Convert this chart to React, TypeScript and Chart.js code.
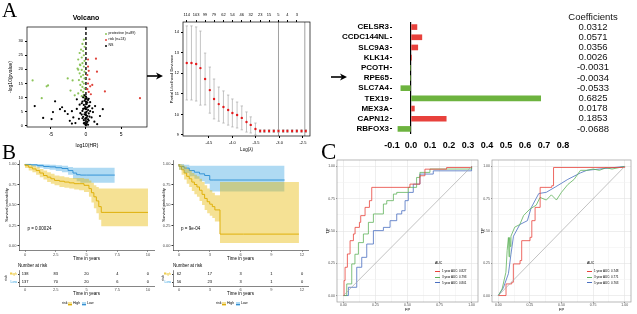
import React, { useEffect, useRef } from "react";
import { Chart, registerables } from "chart.js";

Chart.register(...registerables);

const SANS = "'Liberation Sans', Arial, sans-serif";
const SERIF = "'Liberation Serif', 'Times New Roman', serif";
Chart.defaults.font.family = SANS;

// ---------------- DATA ----------------
// Panel A - volcano (log10(HR), -log10(p))
const volcanoNS: number[][] = [
  [0, 0.2], [-0.1, 0.5], [0.1, 0.8], [-0.2, 1.1], [0.2, 1.4], [0, 1.7], [-0.3, 2.0], [0.3, 2.3], [-0.1, 2.6], [0.1, 2.9],
  [-0.4, 3.2], [0.2, 3.5], [0, 3.8], [-0.2, 4.1], [0.4, 4.4], [-0.1, 4.7], [0.1, 5.0], [-0.5, 5.3], [0.3, 5.6], [0, 5.9],
  [-0.2, 6.2], [0.2, 6.5], [-0.1, 6.8], [0.5, 7.1], [-0.3, 7.4], [0.1, 7.7], [-0.6, 8.0], [0.2, 8.3], [0, 8.6], [-0.2, 8.9],
  [0.3, 9.2], [-0.1, 9.5], [0.1, 9.8], [-0.4, 10.1], [0, 10.4], [-0.2, 10.8], [0.3, 0.4], [-0.3, 0.9], [0.4, 1.9], [-0.5, 2.7],
  [0.5, 3.3], [-0.6, 4.0], [0.6, 5.2], [-0.4, 6.0], [0.4, 6.9], [-0.5, 8.6], [0.4, 9.6], [-1.5, 1.0], [-1.0, 2.5], [-2.0, 0.8],
  [1.2, 1.5], [0.8, 3.0], [-0.8, 4.5], [-1.3, 6.0], [1.0, 4.9], [0.6, 8.4], [-1.3, 9.4], [1.3, 7.0], [2.0, 3.5], [2.4, 5.9],
  [-2.6, 4.2], [-3.0, 5.2], [-3.4, 6.6], [-2.0, 5.2], [-4.7, 4.9], [-4.4, 8.7], [-4.9, 2.4], [-6.1, 2.8], [-7.3, 7.0], [-3.7, 5.9],
  [-1.8, 3.0], [-2.3, 1.8], [1.6, 0.6], [-0.9, 7.5], [0.9, 6.2],
];
const volcanoProtective: number[][] = [
  [-0.3, 30.5], [-0.5, 29], [-0.2, 28], [-0.7, 27], [-0.4, 26.5], [-0.9, 25.8], [-0.3, 25], [-0.6, 24.2], [-1.1, 23.5], [-0.2, 23],
  [-0.5, 22.2], [-0.8, 21.5], [-0.3, 21], [-1.2, 20.3], [-0.6, 19.8], [-0.2, 19.2], [-0.9, 18.6], [-0.4, 18], [-0.7, 17.4], [-0.2, 16.8],
  [-1.0, 16.2], [-0.5, 15.6], [-0.3, 15], [-0.8, 14.5], [-0.5, 13.8], [-0.2, 13.2], [-0.7, 12.6], [-0.4, 12], [-1.1, 11.5], [-0.3, 11],
  [-0.6, 10.5], [-0.2, 10.1], [-7.6, 16.1], [-5.4, 14.3], [-5.6, 14], [-2.6, 16.8], [-1.9, 16.1], [-6.3, 9.8], [-1.1, 19.9], [-0.86, 21.7],
  [-1.6, 10.8], [-2.2, 12.5],
];
const volcanoRisk: number[][] = [
  [0.3, 21], [0.4, 19.5], [0.2, 18], [0.5, 16.5], [0.3, 15], [0.6, 14], [0.2, 13], [0.4, 12], [0.7, 11.2], [1.43, 23.8],
  [1.57, 19.2], [2.7, 12.2], [7.7, 9.8], [0.9, 14.5], [0.3, 23.5],
];
const volcanoXTicks = [-5, 0, 5];
const volcanoYTicks = [0, 5, 10, 15, 20, 25, 30];

// Panel A - LASSO cross-validation
const cvLogLambda = [-4.97, -4.87, -4.77, -4.68, -4.58, -4.48, -4.39, -4.29, -4.19, -4.09, -4.0, -3.9, -3.8, -3.7, -3.61, -3.51,
  -3.41, -3.32, -3.22, -3.12, -3.02, -2.92, -2.83, -2.73, -2.63, -2.53, -2.44];
const cvDeviance = [12.5, 12.5, 12.45, 12.25, 11.72, 11.18, 10.75, 10.5, 10.36, 10.21, 10.07, 9.97, 9.83, 9.63, 9.49, 9.29,
  9.19, 9.19, 9.19, 9.19, 9.19, 9.19, 9.19, 9.19, 9.19, 9.19, 9.19];
const cvError = [1.8, 1.8, 1.8, 1.8, 1.26, 1.12, 0.97, 0.83, 0.78, 0.73, 0.68, 0.63, 0.58, 0.49, 0.39, 0.29,
  0.07, 0.07, 0.07, 0.07, 0.07, 0.07, 0.07, 0.07, 0.07, 0.07, 0.07];
const cvTopCounts = [114, 103, 99, 79, 62, 54, 46, 32, 23, 15, 5, 4, 3];
const cvXTicks = [-4.5, -4.0, -3.5, -3.0, -2.5];
const cvYTicks = [9, 10, 11, 12, 13, 14];
const cvLambdaLines = [-3.02, -2.46];

// Panel A - coefficients
const geneNames = ["CELSR3", "CCDC144NL", "SLC9A3", "KLK14", "PCOTH", "RPE65", "SLC7A4", "TEX19", "MEX3A", "CAPN12", "RBFOX3"];
const geneCoefs = [0.0312, 0.0571, 0.0356, 0.0026, -0.0031, -0.0034, -0.0533, 0.6825, 0.0178, 0.1853, -0.0688];
const geneBarColors = ["#e8413c", "#e8413c", "#e8413c", "#e8413c", "#6db33f", "#6db33f", "#6db33f", "#6db33f", "#e8413c", "#e8413c", "#6db33f"];
const coefXTicks = [-0.1, 0, 0.1, 0.2, 0.3, 0.4, 0.5, 0.6, 0.7, 0.8];

// Panel B - Kaplan-Meier (left: training, right: validation)
const kmLeftHighTime = [0, 0.3, 0.6, 0.9, 1.2, 1.5, 1.8, 2.1, 2.4, 2.8, 3.2, 3.6, 4.0, 4.4, 4.8, 5.2, 5.4, 5.6, 5.8, 6.0, 6.2, 6.5, 10];
const kmLeftHighSurv = [1, 0.98, 0.96, 0.94, 0.92, 0.89, 0.86, 0.84, 0.82, 0.8, 0.79, 0.78, 0.77, 0.76, 0.76, 0.74, 0.7, 0.65, 0.6, 0.55, 0.48, 0.41, 0.41];
const kmLeftHighUpper = [1, 1, 0.99, 0.98, 0.96, 0.94, 0.92, 0.9, 0.88, 0.86, 0.85, 0.84, 0.83, 0.83, 0.83, 0.82, 0.8, 0.77, 0.74, 0.72, 0.7, 0.7, 0.7];
const kmLeftHighLower = [1, 0.95, 0.92, 0.9, 0.87, 0.84, 0.81, 0.78, 0.76, 0.74, 0.72, 0.71, 0.7, 0.69, 0.68, 0.66, 0.6, 0.53, 0.46, 0.4, 0.32, 0.24, 0.24];
const kmLeftLowTime = [0, 0.5, 1.0, 1.5, 2.0, 2.5, 3.0, 3.5, 3.9, 4.2, 4.5, 5.0, 7.3];
const kmLeftLowSurv = [1, 0.995, 0.99, 0.98, 0.97, 0.965, 0.955, 0.945, 0.92, 0.89, 0.87, 0.865, 0.865];
const kmLeftLowUpper = [1, 1, 1, 1, 0.995, 0.99, 0.985, 0.98, 0.965, 0.955, 0.955, 0.955, 0.955];
const kmLeftLowLower = [1, 0.985, 0.97, 0.955, 0.94, 0.93, 0.915, 0.9, 0.87, 0.82, 0.79, 0.77, 0.77];
const kmRightHighTime = [0, 0.25, 0.5, 0.75, 1.0, 1.25, 1.5, 1.75, 2.0, 2.25, 2.5, 2.75, 3.0, 3.25, 3.5, 4.0, 6.3, 11.7];
const kmRightHighSurv = [1, 0.97, 0.93, 0.89, 0.85, 0.82, 0.78, 0.75, 0.72, 0.68, 0.63, 0.58, 0.54, 0.51, 0.48, 0.44, 0.145, 0.145];
const kmRightHighUpper = [1, 1, 0.99, 0.97, 0.94, 0.92, 0.89, 0.87, 0.85, 0.82, 0.78, 0.74, 0.7, 0.68, 0.65, 0.62, 0.78, 0.78];
const kmRightHighLower = [1, 0.93, 0.87, 0.81, 0.76, 0.72, 0.67, 0.63, 0.6, 0.55, 0.5, 0.44, 0.4, 0.37, 0.34, 0.3, 0.035, 0.035];
const kmRightLowTime = [0, 0.5, 1.0, 1.5, 2.0, 2.5, 3.0, 3.4, 10.3];
const kmRightLowSurv = [1, 0.97, 0.95, 0.92, 0.9, 0.88, 0.86, 0.805, 0.805];
const kmRightLowUpper = [1, 1, 0.99, 0.98, 0.98, 0.98, 0.98, 0.98, 0.98];
const kmRightLowLower = [1, 0.93, 0.89, 0.85, 0.82, 0.79, 0.76, 0.665, 0.665];
const kmYTicks = [0, 0.25, 0.5, 0.75, 1];
const kmLeftXTicks = [0, 2.5, 5, 7.5, 10];
const kmRightXTicks = [0, 3, 6, 9, 12];
const kmLeftP = "p = 0.00024";
const kmRightP = "p = 9e-04";
const riskGroups = ["High", "Low"];
const riskLeftHigh = [138, 83, 20, 4, 0];
const riskLeftLow = [137, 70, 20, 6, 0];
const riskRightHigh = [62, 17, 3, 1, 0];
const riskRightLow = [56, 23, 3, 1, 0];

// Panel C - time-dependent ROC curves [FP, TP]
const rocLeft1y: number[][] = [[0, 0], [0.005, 0.116], [0.013, 0.219], [0.031, 0.322], [0.052, 0.425], [0.078, 0.477], [0.091, 0.528],
  [0.125, 0.567], [0.135, 0.619], [0.169, 0.683], [0.203, 0.735], [0.221, 0.838], [0.506, 0.838], [0.519, 0.863], [0.597, 0.928],
  [0.636, 0.979], [0.805, 0.992], [1, 1]];
const rocLeft3y: number[][] = [[0, 0], [0.026, 0.09], [0.065, 0.245], [0.09, 0.32], [0.117, 0.41], [0.156, 0.477], [0.195, 0.567],
  [0.234, 0.632], [0.312, 0.709], [0.338, 0.735], [0.39, 0.786], [0.416, 0.799], [0.506, 0.799], [0.506, 0.838], [0.571, 0.915],
  [0.597, 0.954], [0.675, 0.98], [1, 1]];
const rocLeft5y: number[][] = [[0, 0], [0.039, 0.064], [0.104, 0.219], [0.143, 0.296], [0.182, 0.399], [0.234, 0.503], [0.312, 0.528],
  [0.364, 0.58], [0.416, 0.632], [0.455, 0.657], [0.481, 0.735], [0.506, 0.799], [0.545, 0.863], [0.597, 0.941], [0.701, 0.966], [1, 1]];
const rocRight1y: number[][] = [[0, 0], [0.053, 0], [0.061, 0.09], [0.106, 0.103], [0.119, 0.245], [0.172, 0.271], [0.185, 0.425],
  [0.251, 0.451], [0.265, 0.58], [0.291, 0.683], [0.331, 0.838], [0.423, 0.851], [0.437, 0.992], [1, 1]];
const rocRight3y: number[][] = [[0, 0], [0.03, 0.05], [0.06, 0.18], [0.07, 0.35], [0.08, 0.45], [0.085, 0.3], [0.09, 0.45], [0.095, 0.38],
  [0.1, 0.46], [0.13, 0.53], [0.17, 0.55], [0.2, 0.62], [0.25, 0.67], [0.3, 0.7], [0.33, 0.76], [0.38, 0.74], [0.42, 0.78], [0.46, 0.74],
  [0.5, 0.8], [0.55, 0.86], [0.6, 0.9], [0.65, 0.97], [0.7, 0.97], [0.75, 0.98], [0.8, 0.97], [0.85, 0.99], [0.9, 0.98], [0.95, 0.99], [1, 1]];
const rocRight5y: number[][] = [[0, 0], [0.04, 0.06], [0.08, 0.17], [0.1, 0.32], [0.12, 0.46], [0.17, 0.55], [0.23, 0.58], [0.26, 0.68],
  [0.32, 0.79], [0.38, 0.8], [0.45, 0.84], [0.55, 0.9], [0.65, 0.95], [0.7, 0.97], [1, 1]];
const rocTicks = [0, 0.125, 0.25, 0.375, 0.5, 0.625, 0.75, 0.875, 1];
const aucLeftLabels = ["1 year AUC: 0.827", "3 year AUC: 0.793", "5 year AUC: 0.801"];
const aucRightLabels = ["1 year AUC: 0.748", "3 year AUC: 0.771", "5 year AUC: 0.763"];

// ---------------- STYLE ----------------
const ORANGE = "#E7B800";
const ORANGE_LINE = "#d9aa10";
const BLUE = "#2E9FDF";
const BLUE_LINE = "#3a8ed0";
const ORANGE_BAND = "rgba(231,184,0,0.42)";
const BLUE_BAND = "rgba(46,159,223,0.38)";
const ROC_COLORS = ["#e8423b", "#5fb35a", "#4a6fc0"];

// ---------------- PLUGINS ----------------
const framePlugin: any = {
  id: "frame",
  afterDatasetsDraw(chart: any, _a: any, o: any) {
    if (!o || !o.show) return;
    const { left, top, right, bottom } = chart.chartArea;
    const ctx = chart.ctx;
    ctx.save();
    ctx.strokeStyle = o.color || "#000";
    ctx.lineWidth = o.width || 1;
    ctx.strokeRect(left, top, right - left, bottom - top);
    ctx.restore();
  },
};
const refLinesPlugin: any = {
  id: "refLines",
  beforeDatasetsDraw(chart: any, _a: any, o: any) {
    if (!o || !o.lines) return;
    const { left, top, right, bottom } = chart.chartArea;
    const ctx = chart.ctx;
    for (const l of o.lines) {
      ctx.save();
      ctx.strokeStyle = l.color;
      ctx.lineWidth = l.width;
      ctx.setLineDash(l.dash ? Array.from(l.dash) : []);
      ctx.beginPath();
      if (l.axis === "x") {
        const px = chart.scales.x.getPixelForValue(l.value);
        ctx.moveTo(px, top);
        ctx.lineTo(px, bottom);
      } else {
        const py = chart.scales.y.getPixelForValue(l.value);
        ctx.moveTo(left, py);
        ctx.lineTo(right, py);
      }
      ctx.stroke();
      ctx.restore();
    }
  },
};
const errBarsPlugin: any = {
  id: "errBars",
  beforeDatasetsDraw(chart: any, _a: any, o: any) {
    if (!o || !o.errors) return;
    const meta = chart.getDatasetMeta(0);
    const data = chart.data.datasets[0].data;
    const ys = chart.scales.y;
    const ctx = chart.ctx;
    ctx.save();
    ctx.strokeStyle = o.color;
    ctx.lineWidth = 0.7;
    meta.data.forEach((el: any, i: number) => {
      const v = data[i].y;
      const e = o.errors[i];
      const y1 = ys.getPixelForValue(v - e);
      const y2 = ys.getPixelForValue(v + e);
      ctx.beginPath();
      ctx.moveTo(el.x, y1);
      ctx.lineTo(el.x, y2);
      ctx.moveTo(el.x - o.cap, y1);
      ctx.lineTo(el.x + o.cap, y1);
      ctx.moveTo(el.x - o.cap, y2);
      ctx.lineTo(el.x + o.cap, y2);
      ctx.stroke();
    });
    ctx.restore();
  },
};
const textsPlugin: any = {
  id: "texts",
  afterDatasetsDraw(chart: any, _a: any, o: any) {
    if (!o || !o.items) return;
    const ctx = chart.ctx;
    for (const it of o.items) {
      const x = chart.scales.x.getPixelForValue(it.x);
      const y = chart.scales.y.getPixelForValue(it.y);
      ctx.save();
      ctx.font = it.font;
      ctx.fillStyle = it.color || "#000";
      ctx.textAlign = it.align || "center";
      ctx.textBaseline = "middle";
      ctx.fillText(it.text, x, y);
      ctx.restore();
    }
  },
};
const coefColumnPlugin: any = {
  id: "coefColumn",
  afterDraw(chart: any, _a: any, o: any) {
    if (!o || !o.values) return;
    const ctx = chart.ctx;
    const x = chart.chartArea.right + o.offset;
    ctx.save();
    ctx.font = o.font;
    ctx.fillStyle = "#111";
    ctx.textAlign = "center";
    ctx.textBaseline = "middle";
    ctx.fillText(o.header, x, o.headerY);
    o.values.forEach((t: string, i: number) => ctx.fillText(t, x, chart.scales.y.getPixelForValue(i)));
    ctx.restore();
  },
};
Chart.register(framePlugin, refLinesPlugin, errBarsPlugin, textsPlugin, coefColumnPlugin);

// ---------------- HELPERS ----------------
const fitW = (w: number) => (s: any) => {
  s.width = w;
  s.paddingTop = 0;
  s.paddingBottom = 0;
  s.paddingLeft = 0;
  s.paddingRight = 0;
};
const fitH = (h: number) => (s: any) => {
  s.height = h;
  s.paddingLeft = 0;
  s.paddingRight = 0;
  s.paddingTop = 0;
  s.paddingBottom = 0;
};
const setTicks = (vals: number[]) => (s: any) => {
  s.ticks = vals.map((v) => ({ value: v }));
};
const pts = (t: number[], s: number[]) => t.map((x, i) => ({ x, y: s[i] }));
const pairs = (a: number[][]) => a.map(([x, y]) => ({ x, y }));

const baseOptions = (padding: any) => ({
  responsive: false,
  animation: false,
  devicePixelRatio: 1,
  events: [],
  layout: { padding },
});
const noLegend = { legend: { display: false }, tooltip: { enabled: false } };

function ChartCanvas({ x, y, w, h, config }: any) {
  const ref = useRef<HTMLCanvasElement>(null);
  useEffect(() => {
    const c = new Chart(ref.current as HTMLCanvasElement, config());
    return () => c.destroy();
  }, []);
  return <canvas ref={ref} width={w} height={h} style={{ position: "absolute", left: x, top: y, width: w, height: h }} />;
}

function Txt({ x, y, s, children, anchor = "left", bold = false, color = "#000", family = SANS, rotate = 0 }: any) {
  const tx = anchor === "center" ? "-50%" : anchor === "right" ? "-100%" : "0";
  return (
    <div
      style={{
        position: "absolute",
        left: x,
        top: y,
        fontSize: s,
        lineHeight: 1,
        fontFamily: family,
        fontWeight: bold ? 700 : 400,
        color,
        whiteSpace: "nowrap",
        transform: `translate(${tx}, -50%)${rotate ? ` rotate(${rotate}deg)` : ""}`,
      }}
    >
      {children}
    </div>
  );
}

// ---------------- CHART CONFIGS ----------------
const volcanoConfig = () => ({
  type: "scatter",
  data: {
    datasets: [
      { data: pairs(volcanoNS), backgroundColor: "#000", pointRadius: 1.1, borderWidth: 0 },
      { data: pairs(volcanoProtective), backgroundColor: "#8cc45a", pointRadius: 1.1, borderWidth: 0 },
      { data: pairs(volcanoRisk), backgroundColor: "#e0443c", pointRadius: 1.1, borderWidth: 0 },
    ],
  },
  options: {
    ...baseOptions({ top: 27, right: 5, left: 0, bottom: 0 }),
    scales: {
      x: {
        type: "linear", min: -8.4, max: 8.7,
        afterBuildTicks: setTicks(volcanoXTicks), afterFit: fitH(25),
        grid: { drawOnChartArea: false, drawTicks: true, tickLength: 2, color: "#000" },
        border: { display: false },
        ticks: { font: { size: 5 }, color: "#000", padding: 3, maxRotation: 0, callback: (v: any) => String(v) },
        title: { display: true, text: "log10(HR)", font: { size: 5 }, color: "#000", padding: { top: 0, bottom: 3 } },
      },
      y: {
        type: "linear", min: -0.4, max: 35,
        afterBuildTicks: setTicks(volcanoYTicks), afterFit: fitW(27),
        grid: { drawOnChartArea: false, drawTicks: true, tickLength: 2, color: "#000" },
        border: { display: false },
        ticks: { font: { size: 4 }, color: "#000", padding: 2, callback: (v: any) => String(v) },
        title: { display: true, text: "-log10(pvalue)", font: { size: 5 }, color: "#000", padding: { top: 8, bottom: 0 } },
      },
    },
    plugins: {
      ...noLegend,
      frame: { show: true, color: "#000", width: 0.7 },
      refLines: { lines: [{ axis: "x", value: 0, color: "#000", width: 1.4, dash: [3, 2] }] },
    },
  },
});

const cvConfig = () => ({
  type: "scatter",
  data: {
    datasets: [{ data: pts(cvLogLambda, cvDeviance), backgroundColor: "#e41a1c", pointRadius: 1.2, borderWidth: 0 }],
  },
  options: {
    ...baseOptions({ top: 0, right: 10, left: 0, bottom: 0 }),
    scales: {
      x: {
        type: "linear", position: "bottom", min: -5.05, max: -2.35,
        afterBuildTicks: setTicks(cvXTicks), afterFit: fitH(19),
        grid: { drawOnChartArea: false, drawTicks: true, tickLength: 2, color: "#000" },
        border: { display: false },
        ticks: { font: { size: 4 }, color: "#000", padding: 2, maxRotation: 0, callback: (v: any) => Number(v).toFixed(1) },
        title: { display: true, text: "Log(λ)", font: { size: 4.5 }, color: "#000", padding: { top: 0, bottom: 3 } },
      },
      x2: {
        type: "linear", position: "top", min: -5.05, max: -2.35,
        afterBuildTicks: (s: any) => {
          s.ticks = cvTopCounts.map((_, i) => ({ value: cvLogLambda[i * 2] }));
        },
        afterFit: fitH(22),
        grid: { drawOnChartArea: false, drawTicks: true, tickLength: 2, color: "#000" },
        border: { display: false },
        ticks: { font: { size: 4 }, color: "#000", padding: 3, maxRotation: 0, autoSkip: false, callback: (_v: any, i: number) => String(cvTopCounts[i]) },
      },
      y: {
        type: "linear", min: 8.95, max: 14.49,
        afterBuildTicks: setTicks(cvYTicks), afterFit: fitW(23),
        grid: { drawOnChartArea: false, drawTicks: true, tickLength: 2, color: "#000" },
        border: { display: false },
        ticks: { font: { size: 4 }, color: "#000", padding: 2, callback: (v: any) => String(v) },
        title: { display: true, text: "Partial Likelihood Deviance", font: { size: 4 }, color: "#000", padding: { top: 9, bottom: 0 } },
      },
    },
    plugins: {
      ...noLegend,
      frame: { show: true, color: "#000", width: 0.7 },
      errBars: { errors: cvError, color: "#aaaaaa", cap: 1.2 },
      refLines: { lines: cvLambdaLines.map((v) => ({ axis: "x", value: v, color: "#777", width: 0.7 })) },
    },
  },
});

const coefConfig = () => ({
  type: "bar",
  data: {
    labels: geneNames,
    datasets: [{ data: geneCoefs, backgroundColor: geneBarColors, barThickness: 5, borderWidth: 0 }],
  },
  options: {
    ...baseOptions({ top: 22, right: 74, left: 0, bottom: 0 }),
    indexAxis: "y",
    scales: {
      x: {
        type: "linear", min: -0.1, max: 0.8,
        afterBuildTicks: setTicks(coefXTicks), afterFit: fitH(21),
        grid: {
          drawTicks: false,
          lineWidth: 1.2,
          color: (c: any) => (c.tick && c.tick.value === 0 ? "#000" : "rgba(0,0,0,0)"),
        },
        border: { display: false },
        ticks: { font: { size: 9, weight: "bold" }, color: "#000", padding: 6, maxRotation: 0, callback: (v: any) => Number(v).toFixed(1) },
      },
      y: {
        type: "category", afterFit: fitW(52),
        grid: { offset: false, drawOnChartArea: false, drawTicks: true, tickLength: 2, color: "#000" },
        border: { display: false },
        ticks: { font: { size: 8, weight: "bold" }, color: "#000", padding: 1, autoSkip: false },
      },
    },
    plugins: {
      ...noLegend,
      coefColumn: { header: "Coefficients", values: geneCoefs.map((v) => v.toFixed(4)), offset: 30, headerY: 17, font: `9.5px ${SANS}` },
    },
  },
});

const kmAxis = (min: number, max: number, ticks: number[], w: number) => ({
  x: {
    type: "linear", min, max,
    afterBuildTicks: setTicks(ticks), afterFit: fitH(12),
    grid: { drawOnChartArea: false, drawTicks: true, tickLength: 1.5, color: "#333" },
    border: { display: true, color: "#333", width: 0.6 },
    ticks: { font: { size: 4 }, color: "#4d4d4d", padding: 1, maxRotation: 0, callback: (v: any) => String(v) },
    title: { display: true, text: "Time in years", font: { size: 4.5 }, color: "#000", padding: { top: 0, bottom: 1 } },
  },
  y: {
    type: "linear", min: -0.049, max: 1.049,
    afterBuildTicks: setTicks(kmYTicks), afterFit: fitW(w),
    grid: { drawOnChartArea: false, drawTicks: true, tickLength: 1.5, color: "#333" },
    border: { display: true, color: "#333", width: 0.6 },
    ticks: { font: { size: 4 }, color: "#4d4d4d", padding: 1, callback: (v: any) => Number(v).toFixed(2) },
    title: { display: true, text: "Survival probability", font: { size: 4 }, color: "#000", padding: { top: w > 15 ? 4 : 1, bottom: 0 } },
  },
});

const kmConfig = (g: any) => () => ({
  type: "line",
  data: {
    datasets: [
      { data: pts(g.hT, g.hU), borderWidth: 0, pointRadius: 0, stepped: "after", fill: false },
      { data: pts(g.hT, g.hL), borderWidth: 0, pointRadius: 0, stepped: "after", fill: "-1", backgroundColor: ORANGE_BAND },
      { data: pts(g.lT, g.lU), borderWidth: 0, pointRadius: 0, stepped: "after", fill: false },
      { data: pts(g.lT, g.lL), borderWidth: 0, pointRadius: 0, stepped: "after", fill: "-1", backgroundColor: BLUE_BAND },
      { data: pts(g.hT, g.hS), borderColor: ORANGE_LINE, borderWidth: 1, pointRadius: 0, stepped: "after", fill: false },
      { data: pts(g.lT, g.lS), borderColor: BLUE_LINE, borderWidth: 1, pointRadius: 0, stepped: "after", fill: false },
    ],
  },
  options: {
    ...baseOptions({ top: 5, right: g.padR, left: 0, bottom: 0 }),
    scales: kmAxis(g.min, g.max, g.ticks, g.yw),
    plugins: {
      ...noLegend,
      texts: { items: [{ x: 0.2, y: 0.21, text: g.p, font: `4.5px ${SANS}`, align: "left" }] },
    },
  },
});

const riskConfig = (g: any) => () => ({
  type: "scatter",
  data: {
    datasets: [
      { data: g.times.map((t: number) => ({ x: t, y: riskGroups[0] })), pointRadius: 0 },
      { data: g.times.map((t: number) => ({ x: t, y: riskGroups[1] })), pointRadius: 0 },
    ],
  },
  options: {
    ...baseOptions({ top: 8, right: g.padR, left: 0, bottom: 0 }),
    scales: {
      x: {
        type: "linear", min: g.min, max: g.max,
        afterBuildTicks: setTicks(g.times), afterFit: fitH(12),
        grid: { drawOnChartArea: false, drawTicks: true, tickLength: 1, color: "#333" },
        border: { display: true, color: "#333", width: 0.6 },
        ticks: { font: { size: 4 }, color: "#4d4d4d", padding: 0, maxRotation: 0, callback: (v: any) => String(v) },
        title: { display: true, text: "Time in years", font: { size: 4.5 }, color: "#000", padding: { top: 0, bottom: 2 } },
      },
      y: {
        type: "category", labels: riskGroups, offset: true, afterFit: fitW(g.yw),
        grid: { drawOnChartArea: false, drawTicks: true, tickLength: 1, color: "#333" },
        border: { display: true, color: "#333", width: 0.6 },
        ticks: { font: { size: 3.5 }, padding: 1, color: (c: any) => (c.index === 0 ? ORANGE : BLUE) },
        title: { display: true, text: "risk", font: { size: 3.5 }, color: "#000", padding: { top: g.yw > 15 ? 4 : 1, bottom: 0 } },
      },
    },
    plugins: {
      ...noLegend,
      texts: {
        items: [
          ...g.high.map((n: number, i: number) => ({ x: g.times[i], y: 0, text: String(n), font: `4px ${SANS}` })),
          ...g.low.map((n: number, i: number) => ({ x: g.times[i], y: 1, text: String(n), font: `4px ${SANS}` })),
        ],
      },
    },
  },
});

const rocConfig = (g: any) => () => ({
  type: "line",
  data: {
    datasets: [
      { data: [{ x: 0, y: 0 }, { x: 1, y: 1 }], borderColor: "#a8a8a8", borderWidth: 0.7, pointRadius: 0 },
      ...g.curves.map((c: number[][], i: number) => ({
        data: pairs(c), borderColor: ROC_COLORS[i], borderWidth: 0.8, pointRadius: 0,
        stepped: g.stepped[i] ? "before" : false,
      })),
    ],
  },
  options: {
    ...baseOptions({ top: 5, right: g.padR, left: 0, bottom: 0 }),
    scales: {
      x: {
        type: "linear", min: -0.05, max: 1.05,
        afterBuildTicks: setTicks(rocTicks), afterFit: fitH(12),
        grid: {
          color: (c: any) => (Math.round(c.tick.value * 1000) % 250 === 0 ? "#e3e3e3" : "#f1f1f1"),
          tickColor: (c: any) => (Math.round(c.tick.value * 1000) % 250 === 0 ? "#444" : "rgba(0,0,0,0)"),
          drawTicks: true, tickLength: 1, lineWidth: 0.6,
        },
        border: { display: false },
        ticks: {
          font: { size: 3.5 }, color: "#4d4d4d", padding: 0, maxRotation: 0, autoSkip: false,
          callback: (v: any) => (Math.round(v * 1000) % 250 === 0 ? Number(v).toFixed(2) : ""),
        },
        title: { display: true, text: "FP", font: { size: 4 }, color: "#000", padding: { top: 0, bottom: 2 } },
      },
      y: {
        type: "linear", min: -0.05, max: 1.05,
        afterBuildTicks: setTicks(rocTicks), afterFit: fitW(g.yw),
        grid: {
          color: (c: any) => (Math.round(c.tick.value * 1000) % 250 === 0 ? "#e3e3e3" : "#f1f1f1"),
          tickColor: (c: any) => (Math.round(c.tick.value * 1000) % 250 === 0 ? "#444" : "rgba(0,0,0,0)"),
          drawTicks: true, tickLength: 1, lineWidth: 0.6,
        },
        border: { display: false },
        ticks: {
          font: { size: 3.5 }, color: "#4d4d4d", padding: 1, autoSkip: false,
          callback: (v: any) => (Math.round(v * 1000) % 250 === 0 ? Number(v).toFixed(2) : ""),
        },
        title: { display: true, text: "TP", font: { size: 4 }, color: "#000", padding: { top: g.yw > 14 ? 5 : 0, bottom: 0 } },
      },
    },
    plugins: { ...noLegend, frame: { show: true, color: "#9a9a9a", width: 0.7 } },
  },
});

// ---------------- SMALL HTML PIECES ----------------
function Dot({ x, y, color, label }: any) {
  return (
    <>
      <div style={{ position: "absolute", left: x - 1, top: y - 1, width: 2, height: 2, borderRadius: 1, background: color }} />
      <Txt x={x + 2.5} y={y} s={3.6}>{label}</Txt>
    </>
  );
}

function KmLegend({ x, y }: any) {
  const box = (left: number, band: string, line: string) => (
    <div style={{ position: "absolute", left, top: y - 2, width: 4, height: 4, background: band }}>
      <div style={{ position: "absolute", left: 0, top: 1.5, width: 4, height: 1, background: line }} />
    </div>
  );
  return (
    <>
      <Txt x={x} y={y} s={3.5}>risk</Txt>
      {box(x + 6, ORANGE_BAND, ORANGE_LINE)}
      <Txt x={x + 11} y={y} s={3.5}>High</Txt>
      {box(x + 20, BLUE_BAND, BLUE_LINE)}
      <Txt x={x + 25} y={y} s={3.5}>Low</Txt>
    </>
  );
}

function AucLegend({ x, y, labels }: any) {
  return (
    <>
      <Txt x={x} y={y} s={3.5}>AUC</Txt>
      {labels.map((l: string, i: number) => (
        <React.Fragment key={l}>
          <div style={{ position: "absolute", left: x, top: y + 7 + i * 5.7, width: 5, height: 0.8, background: ROC_COLORS[i] }} />
          <Txt x={x + 7} y={y + 7.4 + i * 5.7} s={3}>{l}</Txt>
        </React.Fragment>
      ))}
    </>
  );
}

function Arrow({ x1, x2, y }: any) {
  return (
    <g>
      <line x1={x1} y1={y} x2={x2 - 5} y2={y} stroke="#000" strokeWidth={1.6} />
      <polygon points={`${x2},${y} ${x2 - 7},${y - 3.5} ${x2 - 5},${y} ${x2 - 7},${y + 3.5}`} fill="#000" />
    </g>
  );
}

export default function App() {
  return (
    <div style={{ position: "fixed", left: 0, top: 0, width: 637, height: 314, background: "#fff", overflow: "hidden" }}>
      {/* Panel A */}
      <ChartCanvas x={0} y={0} w={152} h={152} config={volcanoConfig} />
      <ChartCanvas x={160} y={0} w={160} h={155} config={cvConfig} />
      <ChartCanvas x={340} y={0} w={297} h={155} config={coefConfig} />
      {/* Panel B */}
      <ChartCanvas
        x={0} y={155} w={160} h={107}
        config={kmConfig({
          hT: kmLeftHighTime, hS: kmLeftHighSurv, hU: kmLeftHighUpper, hL: kmLeftHighLower,
          lT: kmLeftLowTime, lS: kmLeftLowSurv, lU: kmLeftLowUpper, lL: kmLeftLowLower,
          min: -0.49, max: 10.49, ticks: kmLeftXTicks, yw: 19, padR: 6, p: kmLeftP,
        })}
      />
      <ChartCanvas
        x={160} y={155} w={160} h={107}
        config={kmConfig({
          hT: kmRightHighTime, hS: kmRightHighSurv, hU: kmRightHighUpper, hL: kmRightHighLower,
          lT: kmRightLowTime, lS: kmRightLowSurv, lU: kmRightLowUpper, lL: kmRightLowLower,
          min: -0.585, max: 12.585, ticks: kmRightXTicks, yw: 13, padR: 12, p: kmRightP,
        })}
      />
      <ChartCanvas
        x={0} y={262} w={160} h={36}
        config={riskConfig({ times: kmLeftXTicks, high: riskLeftHigh, low: riskLeftLow, min: -0.49, max: 10.49, yw: 19, padR: 6 })}
      />
      <ChartCanvas
        x={160} y={262} w={160} h={36}
        config={riskConfig({ times: kmRightXTicks, high: riskRightHigh, low: riskRightLow, min: -0.585, max: 12.585, yw: 13, padR: 12 })}
      />
      {/* Panel C */}
      <ChartCanvas
        x={320} y={155} w={160} h={159}
        config={rocConfig({ curves: [rocLeft1y, rocLeft3y, rocLeft5y], stepped: [true, true, true], yw: 17, padR: 2 })}
      />
      <ChartCanvas
        x={480} y={155} w={157} h={159}
        config={rocConfig({ curves: [rocRight1y, rocRight3y, rocRight5y], stepped: [true, false, false], yw: 12, padR: 6 })}
      />

      {/* Texts & decorations */}
      <Txt x={2} y={10} s={21} family={SERIF}>A</Txt>
      <Txt x={2} y={152} s={21} family={SERIF}>B</Txt>
      <Txt x={321} y={151} s={23} family={SERIF}>C</Txt>
      <Txt x={86} y={16.5} s={7} bold anchor="center">Volcano</Txt>
      <Dot x={106} y={33.5} color="#8cc45a" label="protective (n=89)" />
      <Dot x={106} y={39.5} color="#e0443c" label="risk (n=24)" />
      <Dot x={106} y={45.5} color="#000" label="NS" />
      <Txt x={18} y={266} s={4.5}>Number at risk</Txt>
      <Txt x={173} y={266} s={4.5}>Number at risk</Txt>
      <KmLegend x={62} y={304} />
      <KmLegend x={216} y={304} />
      <AucLegend x={435} y={264} labels={aucLeftLabels} />
      <AucLegend x={587} y={264} labels={aucRightLabels} />
      <svg width={637} height={314} style={{ position: "absolute", left: 0, top: 0, pointerEvents: "none" }}>
        <Arrow x1={147} x2={163} y={76} />
        <Arrow x1={331} x2={347} y={77} />
      </svg>
    </div>
  );
}
